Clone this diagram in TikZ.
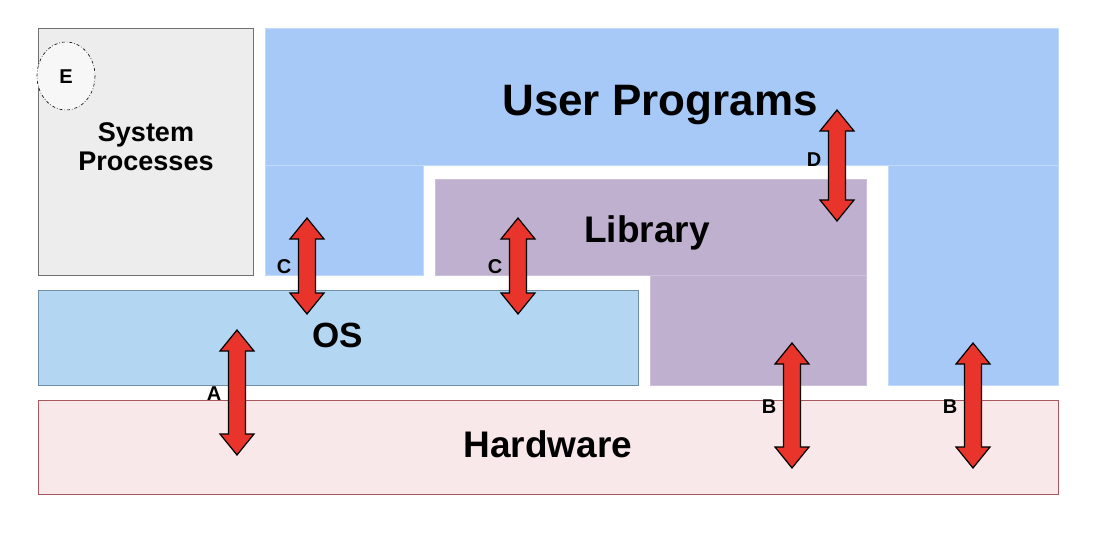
\documentclass[tikz,border=0pt]{standalone}
\usepackage{fontspec}
\setmainfont{Liberation Sans}
\usepackage{tikz}
\usepackage{xcolor}
\definecolor{userblue}{HTML}{A6C9F8}
\definecolor{userline}{HTML}{C2DAF9}
\definecolor{libpurple}{HTML}{BEB0CE}
\definecolor{libline}{HTML}{CCC1D8}
\definecolor{osblue}{HTML}{B3D6F2}
\definecolor{osline}{HTML}{6F8FA8}
\definecolor{hwpink}{HTML}{F9E8EA}
\definecolor{hwline}{HTML}{A8585E}
\definecolor{sysgray}{HTML}{EDEDED}
\definecolor{sysline}{HTML}{707070}
\definecolor{arrowred}{HTML}{E8342A}
\tikzset{
  layertext/.style={font=\bfseries\fontsize{37}{40}\selectfont, anchor=base, inner sep=0pt},
  tag/.style={font=\bfseries\fontsize{20}{22}\selectfont, anchor=base, inner sep=0pt},
  redarrow/.style={fill=arrowred, draw=black, line width=1.2pt, line join=miter}
}
% block arrow pointing both ways: x, top end, bottom end
\newcommand{\layerarrow}[3]{%
  \draw[redarrow] (#1,#2) -- (#1+17,#2+21) -- (#1+8.5,#2+21) -- (#1+8.5,#3-21)
    -- (#1+17,#3-21) -- (#1,#3) -- (#1-17,#3-21) -- (#1-8.5,#3-21)
    -- (#1-8.5,#2+21) -- (#1-17,#2+21) -- cycle;}
\begin{document}
\begin{tikzpicture}[x=1pt, y=-1pt]
  \useasboundingbox[fill=white] (0,0) rectangle (1108,536);
  % layers
  \draw[fill=sysgray, draw=sysline, line width=0.8pt] (38,28) rectangle (253,275);
  \draw[fill=userblue, draw=userline, line width=0.6pt] (265,28) -- (1058,28) -- (1058,385)
    -- (888,385) -- (888,165) -- (423,165) -- (423,275) -- (265,275) -- cycle;
  \draw[userline, line width=0.6pt] (265,165) -- (423,165) (888,165) -- (1058,165);
  \draw[fill=libpurple, draw=libline, line width=0.6pt] (435,179) -- (866,179) -- (866,385)
    -- (650,385) -- (650,275) -- (435,275) -- cycle;
  \draw[libline, line width=0.6pt] (650,275) -- (866,275);
  \draw[fill=osblue, draw=osline, line width=0.8pt] (38,290) rectangle (638,385);
  \draw[fill=hwpink, draw=hwline, line width=0.8pt] (38,400) rectangle (1058,494);
  \draw[fill=white!97!black, draw=black, line width=0.6pt, dash dot] (66,76) ellipse (29 and 34);
  % names
  \node[layertext, font=\bfseries\fontsize{44}{48}\selectfont] (user) at (660,115) {User Programs};
  \node[layertext] (lib) at (647,242) {Library};
  \node[layertext, font=\bfseries\fontsize{35}{40}\selectfont] (os) at (338,347) {OS};
  \node[layertext] (hw) at (548,457) {Hardware};
  \node[layertext, font=\bfseries\fontsize{27}{29}\selectfont, align=center] (sys) at (146,170)
    {System\\Processes};
  \node[tag] (tagE) at (66,83) {E};
  % interfaces
  \layerarrow{237}{330}{455}
  \layerarrow{307}{218}{314}
  \layerarrow{518}{218}{314}
  \layerarrow{837}{110}{221}
  \layerarrow{792}{343}{468}
  \layerarrow{973}{343}{468}
  \node[tag] (tagA) at (214,400) {A};
  \node[tag] (tagC1) at (284,273) {C};
  \node[tag] (tagC2) at (495,273) {C};
  \node[tag] (tagD) at (814,166) {D};
  \node[tag] (tagB1) at (769,413) {B};
  \node[tag] (tagB2) at (950,413) {B};
\end{tikzpicture}
\end{document}
